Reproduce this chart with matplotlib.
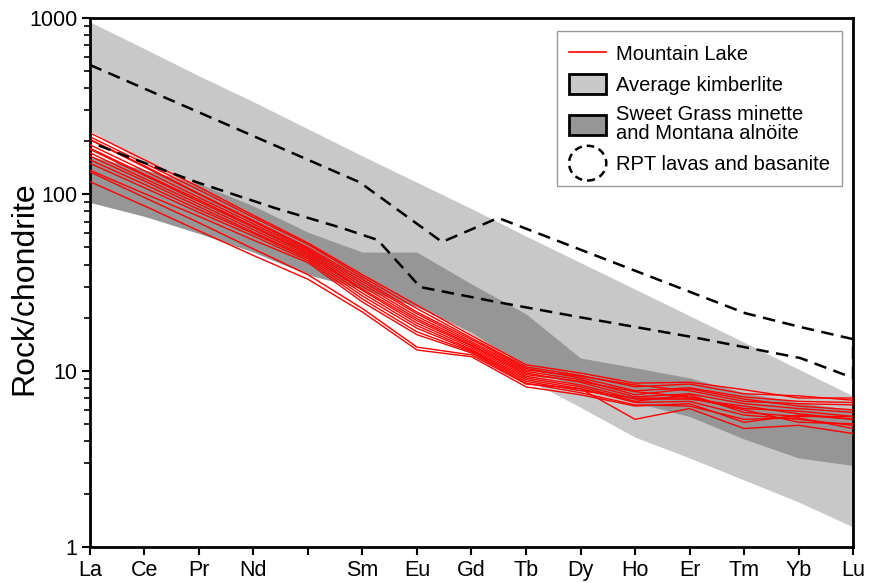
import numpy as np
import matplotlib
matplotlib.use('Agg')
import matplotlib.pyplot as plt
import matplotlib.patches as mpatches
from matplotlib.lines import Line2D
from matplotlib.legend_handler import HandlerPatch
from matplotlib.ticker import LogLocator, NullFormatter, FixedLocator

plt.rcParams['font.family'] = ['Liberation Sans', 'DejaVu Sans']

# REE order, Pm left unlabelled
elements = ['La', 'Ce', 'Pr', 'Nd', '', 'Sm', 'Eu', 'Gd', 'Tb', 'Dy', 'Ho', 'Er', 'Tm', 'Yb', 'Lu']

# Average kimberlite field
kimberlite_upper = [950, 670, 470, 335, 235, 165, 117, 83, 58, 41, 29, 20.5, 14.5, 10.2, 7.2]
kimberlite_lower = [230, 150, 108, 75, 52, 36, 25, 16, 9.0, 6.2, 4.2, 3.2, 2.4, 1.8, 1.3]

# Sweet Grass minette + Montana alnoite field
minette_upper = [165, 138, 115, 86, 61, 47, 47, 31, 21, 11.8, 10.4, 9.1, 7.5, 6.6, 6.0]
minette_lower = [90, 75, 60, 47, 35, 29, 23, 16.5, 10.5, 8.0, 6.6, 5.5, 4.1, 3.2, 2.9]

# RPT lavas and basanite outline (x = position along the element axis)
rpt_upper_x = [0, 4.95, 6.46, 7.49, 12.02, 13.03, 14]
rpt_upper_y = [542, 117, 53.7, 73.5, 21.2, 17.7, 15.1]
rpt_lower_x = [0, 0.70, 1.93, 3.39, 4.62, 5.28, 6.06, 7.47, 8.99, 11.06, 12.06, 13.03, 14]
rpt_lower_y = [198, 163, 118, 83.7, 64.5, 55.1, 29.8, 24.5, 20.1, 15.5, 13.5, 11.8, 9.1]

# Mountain Lake samples, La..Lu (Pm included)
mountain_lake = [
    [223, 157, 110, 76, 53, 35, 23.5, 15.8, 10.8, 9.7, 8.5, 8.6, 7.8, 7.0, 7.0],
    [212, 150, 106, 74, 52, 34, 22.5, 15.3, 10.5, 9.4, 8.1, 8.4, 7.4, 7.2, 6.8],
    [205, 145, 101, 71, 50, 33, 21.5, 15.0, 10.3, 9.1, 7.7, 8.0, 7.1, 6.7, 6.6],
    [204, 143, 100, 70, 49, 32, 21.0, 14.6, 10.1, 9.3, 8.3, 7.7, 6.7, 6.5, 6.4],
    [191, 136, 96, 68, 48, 31, 20.3, 14.3, 9.9, 8.9, 7.3, 7.9, 6.9, 6.3, 6.0],
    [183, 130, 93, 66, 47, 30, 19.7, 14.0, 9.7, 8.6, 7.1, 7.4, 6.5, 6.1, 5.8],
    [180, 128, 91, 65, 46, 29, 19.2, 13.8, 9.5, 8.7, 7.6, 7.1, 6.1, 5.9, 5.5],
    [172, 123, 88, 63, 45, 28.5, 18.6, 13.5, 9.3, 8.3, 6.9, 6.9, 6.3, 5.7, 5.3],
    [165, 119, 85, 61, 44, 27.5, 18.0, 13.2, 9.1, 8.1, 6.7, 7.3, 5.8, 5.5, 5.5],
    [157, 114, 82, 60, 43, 26.5, 17.4, 13.0, 8.9, 7.9, 6.6, 6.7, 5.6, 5.3, 4.9],
    [150, 109, 79, 58, 42, 25.5, 16.6, 12.8, 8.7, 7.7, 7.0, 7.0, 6.0, 5.1, 5.0],
    [137, 101, 75, 55, 41, 24.5, 16.0, 12.6, 8.5, 7.5, 6.4, 6.3, 5.3, 5.4, 4.7],
    [134, 96, 69, 49, 35, 22.5, 13.6, 12.3, 8.4, 7.9, 5.3, 6.1, 4.7, 4.9, 4.4],
    [118, 86, 62, 45, 33, 21.5, 13.1, 12.0, 8.1, 7.3, 6.3, 6.5, 5.1, 5.6, 5.3],
]

LIGHT = '#c8c8c8'
DARK = '#969696'
DASH = (0, (5, 3))


class HandlerEllipse(HandlerPatch):
    def create_artists(self, legend, orig_handle, xdescent, ydescent,
                       width, height, fontsize, trans):
        center = (0.5 * width - xdescent, 0.5 * height - ydescent)
        p = mpatches.Ellipse(xy=center, width=width + xdescent,
                             height=1.5 * (height + ydescent))
        self.update_prop(p, orig_handle, legend)
        p.set_transform(trans)
        return [p]


x = np.arange(len(elements))

fig = plt.figure(figsize=(8.7, 5.83), dpi=100)
ax = fig.add_axes([0.1034, 0.0617, 0.8771, 0.9074])

ax.fill_between(x, kimberlite_lower, kimberlite_upper, color=LIGHT, lw=0, zorder=1)
ax.fill_between(x, minette_lower, minette_upper, color=DARK, lw=0, zorder=2)

for sample in mountain_lake:
    ax.plot(x, sample, color='red', lw=1.0, zorder=3)

rpt_x = rpt_upper_x + rpt_lower_x[::-1] + [rpt_upper_x[0]]
rpt_y = rpt_upper_y + rpt_lower_y[::-1] + [rpt_upper_y[0]]
ax.plot(rpt_x, rpt_y, color='black', lw=1.8, linestyle=DASH, zorder=4)

ax.set_yscale('log')
ax.set_ylim(1, 1000)
ax.set_xlim(0, 14)

ax.set_xticks(x)
ax.set_xticklabels(elements, fontsize=15.5)
ax.yaxis.set_major_locator(FixedLocator([1, 10, 100, 1000]))
ax.set_yticklabels(['1', '10', '100', '1000'], fontsize=15.5)
ax.yaxis.set_minor_locator(LogLocator(base=10, subs=np.arange(2, 10)))
ax.yaxis.set_minor_formatter(NullFormatter())

ax.tick_params(axis='both', which='major', direction='out', length=6, width=1.5, pad=3)
ax.tick_params(axis='y', which='minor', direction='out', length=4, width=1.2)
for side in ax.spines.values():
    side.set_linewidth(2)

ax.set_ylabel('Rock/chondrite', fontsize=23)
ax.yaxis.set_label_coords(-0.066, 0.49)

handles = [
    Line2D([], [], color='red', lw=1.2),
    mpatches.Patch(facecolor=LIGHT, edgecolor='black', lw=2),
    mpatches.Patch(facecolor=DARK, edgecolor='black', lw=2),
    mpatches.Patch(facecolor='none', edgecolor='black', lw=1.8, linestyle=(0, (3, 2))),
]
labels = ['Mountain Lake', 'Average kimberlite',
          'Sweet Grass minette\nand Montana alnöite', 'RPT lavas and basanite']
leg = ax.legend(handles, labels, loc='upper left', bbox_to_anchor=(0.612, 0.975),
                frameon=True, fancybox=False, edgecolor='#999999', framealpha=1,
                fontsize=14.5, handlelength=1.85, handleheight=1.15, labelspacing=0.5,
                handletextpad=0.5, borderpad=0.6, borderaxespad=0,
                handler_map={handles[3]: HandlerEllipse()})
leg.get_frame().set_linewidth(1)
for t in leg.get_texts():
    t.set_linespacing(1.0)

fig.savefig('out.png', dpi=100)
